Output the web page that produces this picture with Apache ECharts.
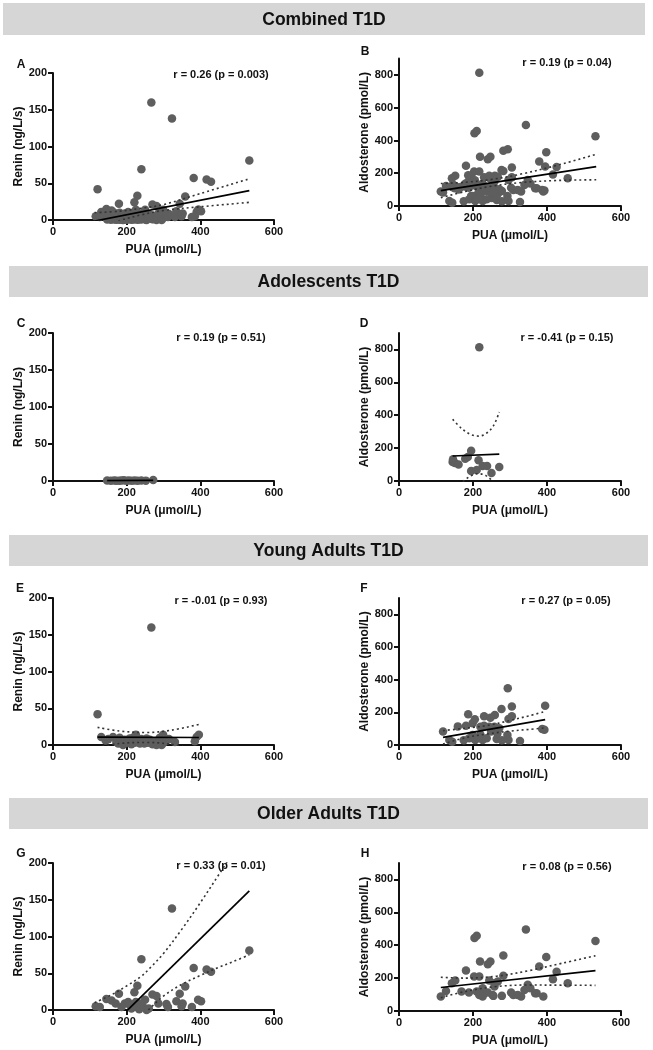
<!DOCTYPE html>
<html><head><meta charset="utf-8">
<script src="https://cdn.jsdelivr.net/npm/echarts@6/dist/echarts.min.js"></script>
<style>html,body{margin:0;padding:0;background:#fff}#c{width:653px;height:1050px}</style>
</head><body><div id="c"></div>
<script>
// ---------- Data ----------
const headers = ['Combined T1D', 'Adolescents T1D', 'Young Adults T1D', 'Older Adults T1D'];
const panelLetters = ['A','B','C','D','E','F','G','H'];
const rTexts = ['r = 0.26 (p = 0.003)','r = 0.19 (p = 0.04)','r = 0.19 (p = 0.51)','r = -0.41 (p = 0.15)',
                'r = -0.01 (p = 0.93)','r = 0.27 (p = 0.05)','r = 0.33 (p = 0.01)','r = 0.08 (p = 0.56)'];
const xTicks = [0, 200, 400, 600];
const reninTicks = [0, 50, 100, 150, 200];
const aldoTicks = [0, 200, 400, 600, 800];

// Adolescents
const adoRenPUA = [147,157,166,172,180,186,192,199,206,214,222,230,240,252,272];
const adoRenin  = [0.6,0.4,0.8,0.5,0.3,0.7,0.9,0.4,0.6,0.5,0.8,0.3,0.6,0.5,1.2];
const adoAldPUA = [145,146,151,161,179,186,195,195,210,215,217,226,238,250,271];
const adoAldo   = [115,132,109,101,136,146,184,61,67,126,814,91,91,49,85];
// Young adults
const youRenPUA = [121,131,143,150,163,172,177,181,190,195,200,204,208,213,217,222,225,231,236,240,245,248,254,258,263,267,270,276,281,285,290,295,299,300,304,308,315,331,385,390,396];
const youRenin  = [42,11,6,8,11,4,2,10,0,7,3,4,9,1,10,3,14,7,2,8,5,2,9,3,7,160,1,5,0,6,10,0,14,3,9,6,8,4,5,11,14];
const youAldPUA = [119,136,144,159,175,181,187,190,199,199,205,206,212,220,220,226,230,230,237,244,247,249,258,259,264,266,271,277,278,293,294,296,296,305,305,327,387,393,395];
const youAldo   = [82,31,20,114,29,118,188,41,133,61,157,31,45,112,65,31,176,118,41,112,167,82,112,184,37,71,102,220,29,61,347,159,31,176,235,24,98,94,241];
// Older adults
const oldRenPUA = [116,127,145,159,170,179,186,195,204,208,213,221,225,227,229,234,236,240,245,250,254,260,270,281,286,308,312,323,335,344,349,352,359,377,382,394,402,417,429,533];
const oldRenin  = [5,4,15,13,9,22,4,9,11,7,2,24,11,4,33,1,9,69,4,14,0,2,21,19,9,8,4,138,12,22,5,9,32,4,57,14,12,55,52,81];
const oldAldPUA = [113,127,143,152,169,181,189,203,204,210,210,217,217,219,226,226,228,240,240,244,247,253,255,258,258,267,278,282,282,303,309,321,330,339,343,348,355,368,372,379,390,398,416,426,456,531];
const oldAldo   = [88,122,169,185,118,246,112,210,444,458,118,210,98,301,88,138,104,285,112,185,301,98,92,169,149,179,92,214,338,112,98,98,88,128,495,159,138,108,108,271,88,328,193,238,169,426];

// Regression lines (end points) and 95% confidence bands
const fitAX = [113,533], fitAY = [-1.4,40];
const bandAX = [113,180,240,300,400,533], bandAUp = [10,12,16,21,36,56], bandALo = [-13,-1,7,13,18,24];
const fitBX = [113,533], fitBY = [94,240];
const bandBX = [113,180,250,330,430,533], bandBUp = [137,145,162,195,250,316], bandBLo = [51,89,121,143,156,160];
const fitCX = [147,272], fitCY = [0.5,0.9];
const bandCX = [], bandCUp = [], bandCLo = [];
const fitDX = [145,271], fitDY = [152,164];
const bandDX = [145,170,195,215,235,255,271], bandDUp = [375,318,282,273,288,335,420], bandDLo = [-71,-9,32,44,33,-10,-92];
const fitEX = [121,396], fitEY = [10.8,10.2];
const bandEX = [121,180,254,320,396], bandEUp = [24,19,17,20,28], bandELo = [-3,2,3.5,1,-7];
const fitFX = [119,395], fitFY = [47,155];
const bandFX = [119,180,240,300,350,395], bandFUp = [88,103,120,150,178,205], bandFLo = [6,45,68,85,95,105];
const fitGX = [113,533], fitGY = [-44,162];
const bandGX = [113,160,204,240,265,300,350,400,450,490,533];
const bandGUp = [10,21,34,46,58,77,110,146,184,215,250];
const bandGLo = [-98,-63,-32,-10,3,19,35,47,58,66,75];
const fitHX = [113,531], fitHY = [143,246];
const bandHX = [113,180,265,350,440,531], bandHUp = [205,200,212,245,290,336], bandHLo = [81,119,149,158,157,156];

// ---------- Build ----------
const zip = (a, b) => a.map((v, i) => [v, b[i]]);
const panels = [
  {x: [...adoRenPUA, ...youRenPUA, ...oldRenPUA], y: [...adoRenin, ...youRenin, ...oldRenin], fx: fitAX, fy: fitAY, bx: bandAX, bu: bandAUp, bl: bandALo, aldo: false},
  {x: [...adoAldPUA, ...youAldPUA, ...oldAldPUA], y: [...adoAldo, ...youAldo, ...oldAldo], fx: fitBX, fy: fitBY, bx: bandBX, bu: bandBUp, bl: bandBLo, aldo: true},
  {x: adoRenPUA, y: adoRenin, fx: fitCX, fy: fitCY, bx: bandCX, bu: bandCUp, bl: bandCLo, aldo: false},
  {x: adoAldPUA, y: adoAldo, fx: fitDX, fy: fitDY, bx: bandDX, bu: bandDUp, bl: bandDLo, aldo: true},
  {x: youRenPUA, y: youRenin, fx: fitEX, fy: fitEY, bx: bandEX, bu: bandEUp, bl: bandELo, aldo: false},
  {x: youAldPUA, y: youAldo, fx: fitFX, fy: fitFY, bx: bandFX, bu: bandFUp, bl: bandFLo, aldo: true},
  {x: oldRenPUA, y: oldRenin, fx: fitGX, fy: fitGY, bx: bandGX, bu: bandGUp, bl: bandGLo, aldo: false},
  {x: oldAldPUA, y: oldAldo, fx: fitHX, fy: fitHY, bx: bandHX, bu: bandHUp, bl: bandHLo, aldo: true}
];

const grids = [
  {left: 53, top: 73, width: 221, height: 147},
  {left: 399, top: 58.6, width: 222, height: 147.4},
  {left: 53, top: 333, width: 221, height: 148},
  {left: 399, top: 333, width: 222, height: 148},
  {left: 53, top: 598, width: 221, height: 147},
  {left: 399, top: 598, width: 222, height: 147},
  {left: 53, top: 863, width: 221, height: 147},
  {left: 399, top: 863, width: 222, height: 148}
];
const letterPos = [[21,65],[365,52],[21,324],[364,324],[20,589],[364,589],[21,854],[365,854]];
const rPos = [[221,75],[567,63],[221,338],[567,338],[221,601],[566,601],[221,866],[567,867]];
const headerRects = [[3,3,642,32],[9,266,639,31],[9,535,639,31],[9,798,639,31]];

const FONT = '"Liberation Sans", Arial, sans-serif';
const AX = '#111';
const xAxes = [], yAxes = [], series = [];
panels.forEach((p, i) => {
  xAxes.push({
    type: 'value', gridIndex: i, min: 0, max: 600, interval: 200,
    axisLine: {show: true, onZero: false, lineStyle: {color: AX, width: 2}},
    axisTick: {show: true, length: 5, lineStyle: {color: AX, width: 2}},
    axisLabel: {margin: 6, color: '#111', fontFamily: FONT, fontWeight: 'bold', fontSize: 11, customValues: xTicks},
    splitLine: {show: false},
    name: 'PUA (\u03bcmol/L)', nameLocation: 'middle', nameGap: 24,
    nameTextStyle: {color: '#111', fontFamily: FONT, fontWeight: 'bold', fontSize: 12}
  });
  const ticks = p.aldo ? aldoTicks : reninTicks;
  yAxes.push({
    type: 'value', gridIndex: i, min: 0, max: p.aldo ? 900 : 200, interval: p.aldo ? 200 : 50,
    axisLine: {show: true, onZero: false, lineStyle: {color: AX, width: 2}},
    axisTick: {show: true, length: 5, lineStyle: {color: AX, width: 2}, customValues: ticks},
    axisLabel: {margin: 6, color: '#111', fontFamily: FONT, fontWeight: 'bold', fontSize: 11, customValues: ticks},
    splitLine: {show: false},
    name: p.aldo ? 'Aldosterone (pmol/L)' : 'Renin (ng/L/s)', nameLocation: 'middle', nameGap: 28,
    nameTextStyle: {color: '#111', fontFamily: FONT, fontWeight: 'bold', fontSize: 12}
  });
  series.push({
    type: 'scatter', xAxisIndex: i, yAxisIndex: i, data: zip(p.x, p.y),
    symbolSize: 8.5, itemStyle: {color: '#5e5e5e', opacity: 1}, z: 2
  });
  series.push({
    type: 'line', xAxisIndex: i, yAxisIndex: i, data: zip(p.fx, p.fy), clip: true,
    showSymbol: false, symbol: 'none', lineStyle: {color: '#000', width: 1.7}, z: 3
  });
  if (p.bx.length) {
    [p.bu, p.bl].forEach(b => series.push({
      type: 'line', xAxisIndex: i, yAxisIndex: i, data: zip(p.bx, b), clip: true, smooth: 0.35,
      showSymbol: false, symbol: 'none', lineStyle: {color: '#333', width: 1.6, type: [2, 3]}, z: 3
    }));
  }
});

const graphic = [];
headers.forEach((h, i) => {
  const r = headerRects[i];
  graphic.push({type: 'rect', shape: {x: r[0], y: r[1], width: r[2], height: r[3]}, style: {fill: '#d6d6d6'}, silent: true});
  graphic.push({type: 'text', x: r[0] + r[2] / 2, y: r[1] + r[3] / 2 + 1,
    style: {text: h, fill: '#111', font: 'bold 17.5px ' + FONT, textAlign: 'center', textVerticalAlign: 'middle'}, silent: true});
});
panelLetters.forEach((l, i) => {
  graphic.push({type: 'text', x: letterPos[i][0], y: letterPos[i][1],
    style: {text: l, fill: '#111', font: 'bold 12px ' + FONT, textAlign: 'center', textVerticalAlign: 'middle'}, silent: true});
  graphic.push({type: 'text', x: rPos[i][0], y: rPos[i][1],
    style: {text: rTexts[i], fill: '#111', font: 'bold 11px ' + FONT, textAlign: 'center', textVerticalAlign: 'middle'}, silent: true});
});

const chart = echarts.init(document.getElementById('c'), null, {renderer: 'canvas'});
chart.setOption({
  animation: false, backgroundColor: '#fff',
  grid: grids, xAxis: xAxes, yAxis: yAxes, series: series, graphic: graphic
});
</script></body></html>
